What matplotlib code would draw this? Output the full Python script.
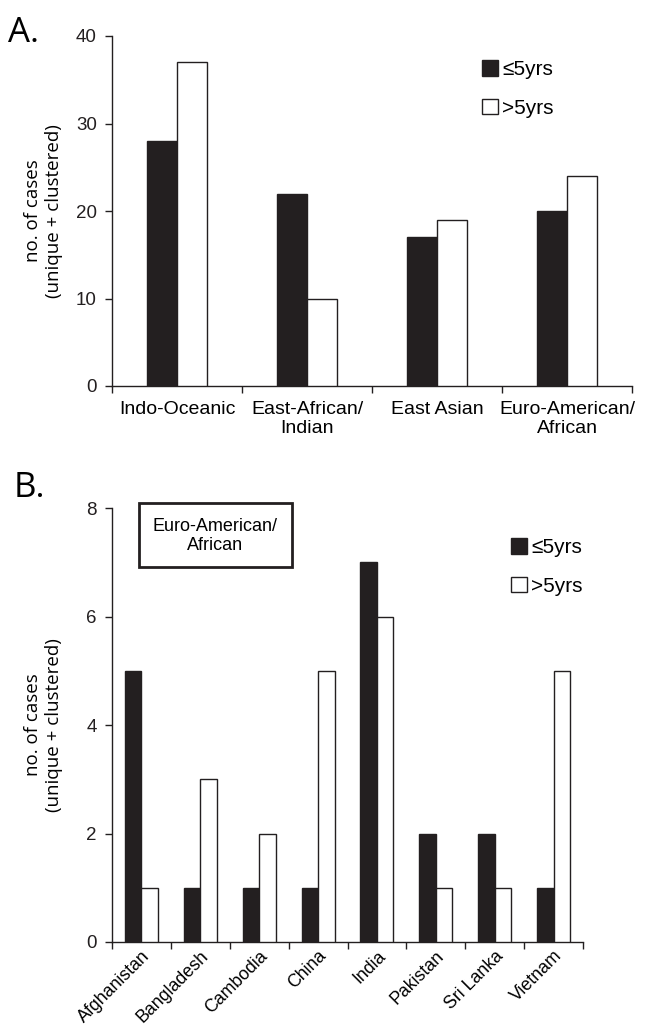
import matplotlib
matplotlib.use("Agg")
import matplotlib.pyplot as plt
from matplotlib.patches import Patch, Rectangle
import numpy as np

# ---- data ----
cats_a = ["Indo-Oceanic", "East-African/\nIndian", "East Asian", "Euro-American/\nAfrican"]
le5_a = [28, 22, 17, 20]
gt5_a = [37, 10, 19, 24]

cats_b = ["Afghanistan", "Bangladesh", "Cambodia", "China", "India", "Pakistan", "Sri Lanka", "Vietnam"]
le5_b = [5, 1, 1, 1, 7, 2, 2, 1]
gt5_b = [1, 3, 2, 5, 6, 1, 1, 5]

yticks_a = [0, 10, 20, 30, 40]
yticks_b = [0, 2, 4, 6, 8]
legend_labels = ["\u22645yrs", ">5yrs"]
ylabel = "no. of cases\n(unique + clustered)"

BLACK = "#231f20"
ARIAL = ["Liberation Sans", "DejaVu Sans"]
MYRIAD = ["Open Sans", "DejaVu Sans"]

W, H = 649, 1034
fig = plt.figure(figsize=(W / 100, H / 100), dpi=100)


def ax_rect(x0, x1, ytop, ybot):
    return [x0 / W, 1 - ybot / H, (x1 - x0) / W, (ybot - ytop) / H]


def style(ax, n, yticks, ymax, cats, rot):
    ax.set_xlim(0, n)
    ax.set_ylim(0, ymax)
    for s in ["top", "right"]:
        ax.spines[s].set_visible(False)
    for s in ["left", "bottom"]:
        ax.spines[s].set_linewidth(1.0)
        ax.spines[s].set_color(BLACK)
    ax.set_yticks(yticks)
    ax.set_yticklabels([str(v) for v in yticks], fontfamily=ARIAL, fontsize=13.5)
    ax.tick_params(axis="y", direction="out", length=5, width=1, pad=6, colors=BLACK)
    ax.set_xticks(np.arange(0, n + 1))
    ax.set_xticklabels([])
    ax.tick_params(axis="x", which="major", direction="out", length=5, width=1, colors=BLACK)
    ax.set_xticks(np.arange(n) + 0.5, minor=True)
    if rot:
        ax.set_xticklabels(cats, minor=True, rotation=45, ha="right",
                           rotation_mode="anchor", fontfamily=ARIAL, fontsize=12.8)
        ax.tick_params(axis="x", which="minor", length=0, pad=4)
    else:
        ax.set_xticklabels(cats, minor=True, fontfamily=ARIAL, fontsize=14,
                           linespacing=1.15)
        ax.tick_params(axis="x", which="minor", length=0, pad=11)


# ---- Panel A ----
axA = fig.add_axes(ax_rect(112, 632, 36, 386))
xa = np.arange(len(cats_a)) + 0.5
wa = 0.227
axA.bar(xa - wa / 2, le5_a, wa, color=BLACK, edgecolor=BLACK, linewidth=1, zorder=3)
axA.bar(xa + wa / 2, gt5_a, wa, color="white", edgecolor=BLACK, linewidth=1, zorder=3)
style(axA, len(cats_a), yticks_a, 40, cats_a, False)
axA.set_ylabel(ylabel, fontfamily=MYRIAD, fontsize=13.5, linespacing=1.2)
axA.yaxis.set_label_coords((63 - 112) / 520, 0.5)

handles = [Patch(facecolor=BLACK, edgecolor=BLACK, linewidth=1),
           Patch(facecolor="white", edgecolor=BLACK, linewidth=1)]
axA.legend(handles, legend_labels, frameon=False, loc="upper left",
           bbox_to_anchor=((474 - 112) / 520, (386 - 52) / 350),
           handlelength=0.75, handleheight=0.75, handletextpad=0.2,
           labelspacing=0.92, borderaxespad=0,
           prop={"family": ARIAL, "size": 15})

fig.text(8 / W, 1 - 42 / H, "A.", fontfamily=MYRIAD, fontsize=25, va="baseline", ha="left")

# ---- Panel B ----
axB = fig.add_axes(ax_rect(112, 583, 508, 942))
xb = np.arange(len(cats_b)) + 0.5
wb = 0.28
axB.bar(xb - wb / 2, le5_b, wb, color=BLACK, edgecolor=BLACK, linewidth=1, zorder=3)
axB.bar(xb + wb / 2, gt5_b, wb, color="white", edgecolor=BLACK, linewidth=1, zorder=3)
style(axB, len(cats_b), yticks_b, 8, cats_b, True)
axB.set_ylabel(ylabel, fontfamily=MYRIAD, fontsize=13.5, linespacing=1.2)
axB.yaxis.set_label_coords((63 - 112) / 471, 0.5)

axB.legend(handles, legend_labels, frameon=False, loc="upper left",
           bbox_to_anchor=((503 - 112) / 471, (942 - 530) / 434),
           handlelength=0.75, handleheight=0.75, handletextpad=0.2,
           labelspacing=0.92, borderaxespad=0,
           prop={"family": ARIAL, "size": 15})

box = Rectangle((139 / W, 1 - 567 / H), (292 - 139) / W, (567 - 503) / H,
                transform=fig.transFigure, facecolor="white", edgecolor=BLACK,
                linewidth=2, zorder=5)
fig.add_artist(box)
fig.text((139 + 292) / 2 / W, 1 - 536 / H, "Euro-American/\nAfrican", ha="center",
         va="center", fontfamily=ARIAL, fontsize=13, linespacing=1.15, zorder=6)

fig.text(14 / W, 1 - 497 / H, "B.", fontfamily=MYRIAD, fontsize=25, va="baseline", ha="left")

fig.savefig("out.png", dpi=100)
